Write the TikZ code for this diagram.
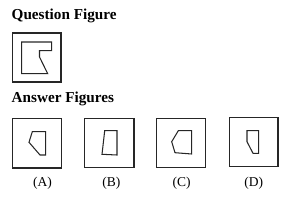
\documentclass[tikz,border=0pt]{standalone}
\usepackage{fontspec}
\setmainfont{Liberation Serif}
\begin{document}
\begin{tikzpicture}[x=1pt,y=-1pt,
  frame/.style={draw=black!85,line width=1.1pt},
  inner/.style={draw=black!85,line width=1.05pt,line join=miter},
  heading/.style={anchor=base west,inner sep=0pt,font=\bfseries\fontsize{15.2}{18}\selectfont},
  optlabel/.style={anchor=base,inner sep=0pt,font=\fontsize{13.5}{16}\selectfont}]
\useasboundingbox (0,0) rectangle (297,205);
\node[heading] (qtitle) at (11.5,20) {Question Figure};
\node[heading] (atitle) at (11.5,103) {Answer Figures};
% question figure
\draw[frame] (12.5,33) rectangle (61,82);
\draw[inner] (21.7,42) -- (51.7,42) -- (51.7,50.7) -- (39.5,50.7) -- (39.5,57) -- (47.7,73.7) -- (21.7,73.7) -- cycle;
% answer A
\draw[frame] (12.5,118.3) rectangle (61.5,168);
\draw[inner] (32.3,131.7) -- (45.7,131.7) -- (45.7,155) -- (40,155) -- (29,142.3) -- cycle;
% answer B
\draw[frame] (84.7,118.3) rectangle (134,167.3);
\draw[inner] (104.7,130.7) -- (117,130.7) -- (117,155) -- (102,154.3) -- cycle;
% answer C
\draw[frame] (156.7,118.3) rectangle (205.7,167.3);
\draw[inner] (178.3,130.7) -- (191.7,130.7) -- (191.7,154) -- (175,152.7) -- (171.7,141.7) -- cycle;
% answer D
\draw[frame] (229.3,117.5) rectangle (278,166.7);
\draw[inner] (247,130.7) -- (258.7,130.7) -- (258.7,153.3) -- (253,153.3) -- (247,141.7) -- cycle;
% labels
\node[optlabel] (la) at (42.5,187) {(A)};
\node[optlabel] (lb) at (111.3,187) {(B)};
\node[optlabel] (lc) at (181.6,187) {(C)};
\node[optlabel] (ld) at (253.7,187) {(D)};
\end{tikzpicture}
\end{document}
